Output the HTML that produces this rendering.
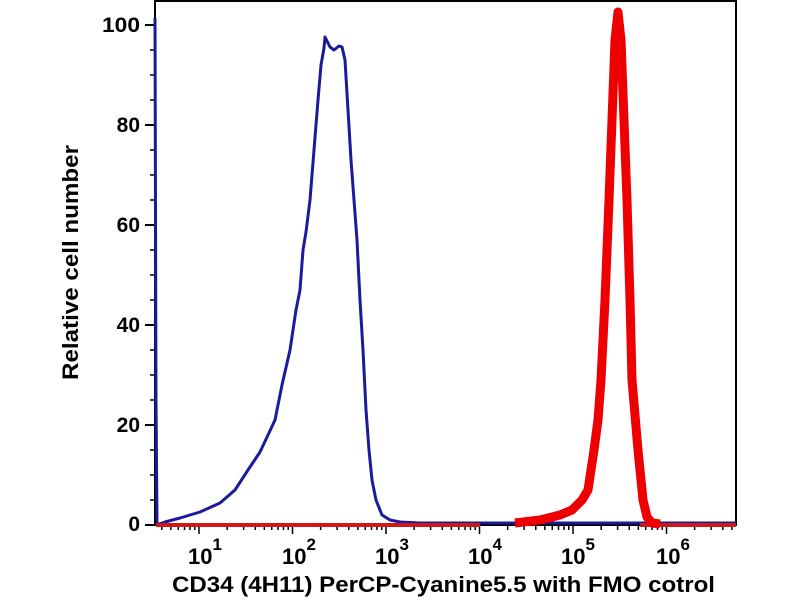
<!DOCTYPE html>
<html><head><meta charset="utf-8"><style>
html,body{margin:0;padding:0;background:#fff;width:800px;height:600px;overflow:hidden}
svg text{font-family:"Liberation Sans",Arial,sans-serif;font-weight:bold;fill:#000}
</style></head><body>
<svg width="800" height="600" viewBox="0 0 800 600" xmlns="http://www.w3.org/2000/svg">
<rect x="155" y="1" width="581" height="524" fill="none" stroke="#000" stroke-width="2"/>
<g stroke="#000" stroke-width="2">
<line x1="145" y1="25" x2="155" y2="25"/><line x1="145" y1="125" x2="155" y2="125"/>
<line x1="145" y1="225" x2="155" y2="225"/><line x1="145" y1="325" x2="155" y2="325"/>
<line x1="145" y1="425" x2="155" y2="425"/><line x1="145" y1="525" x2="155" y2="525"/>
</g>
<g stroke="#000" stroke-width="1.5">
<line x1="150" y1="50" x2="155" y2="50"/><line x1="150" y1="75" x2="155" y2="75"/><line x1="150" y1="100" x2="155" y2="100"/>
<line x1="150" y1="150" x2="155" y2="150"/><line x1="150" y1="175" x2="155" y2="175"/><line x1="150" y1="200" x2="155" y2="200"/>
<line x1="150" y1="250" x2="155" y2="250"/><line x1="150" y1="275" x2="155" y2="275"/><line x1="150" y1="300" x2="155" y2="300"/>
<line x1="150" y1="350" x2="155" y2="350"/><line x1="150" y1="375" x2="155" y2="375"/><line x1="150" y1="400" x2="155" y2="400"/>
<line x1="150" y1="450" x2="155" y2="450"/><line x1="150" y1="475" x2="155" y2="475"/><line x1="150" y1="500" x2="155" y2="500"/>
</g>
<g id="xt" stroke="#000" stroke-width="1.5"></g>
<g font-size="21" text-anchor="end">
<text x="140" y="32" textLength="38" lengthAdjust="spacingAndGlyphs">100</text><text x="140" y="132">80</text><text x="140" y="232">60</text>
<text x="140" y="332">40</text><text x="140" y="432">20</text><text x="140" y="531">0</text>
</g>
<g font-size="22" text-anchor="middle">
<text x="205" y="564">10<tspan font-size="17" dy="-14">1</tspan></text>
<text x="299" y="564">10<tspan font-size="17" dy="-14">2</tspan></text>
<text x="392" y="564">10<tspan font-size="17" dy="-14">3</tspan></text>
<text x="485" y="564">10<tspan font-size="17" dy="-14">4</tspan></text>
<text x="578" y="564">10<tspan font-size="17" dy="-14">5</tspan></text>
<text x="673" y="564">10<tspan font-size="17" dy="-14">6</tspan></text>
</g>
<text x="172" y="592" font-size="22" textLength="543" lengthAdjust="spacingAndGlyphs">CD34 (4H11) PerCP-Cyanine5.5 with FMO cotrol</text>
<text transform="translate(78,380) rotate(-90)" font-size="22" textLength="235" lengthAdjust="spacingAndGlyphs">Relative cell number</text>
<polyline fill="none" stroke="#1a1a9c" stroke-width="3" stroke-linejoin="round" points="155,18 156,400 157,523 159,524 165,522 180,518 200,512 220,503 235,490 248,470 260,452 268,435 275,420 282,385 290,350 296,310 300,290 303,250 306,232 310,200 314,150 318,100 321,65 324,48 325,37 330,47 334,50 339,46 342,47 345,60 348,110 351,160 354,200 357,240 360,300 363,350 366,410 369,450 372,480 376,500 382,515 390,520 400,522 420,523 736,523"/>
<line x1="156" y1="525" x2="480" y2="525" stroke="#d01818" stroke-width="4"/>
<line x1="640" y1="525" x2="736" y2="525" stroke="#d01818" stroke-width="4"/>
<polyline fill="none" stroke="#e00" stroke-width="9" stroke-linejoin="round" points="515,523 540,520 560,515 572,510 582,500 588,490 594,450 598,420 601,380 605,300 609,200 612,120 615,40 618,12 621,40 624,120 627,200 630,300 632,380 638,450 643,500 647,517 652,523 660,524"/>
</svg>
<script>
var g=document.getElementById('xt'),s='';
for(var d=0;d<=6;d++){for(var m=1;m<=9;m++){var x=199+(d-1+Math.log10(m))*93.5;if(x<156||x>736)continue;var L=m==1?9:5;s+='<line x1="'+x+'" y1="525" x2="'+x+'" y2="'+(525+L)+'"/>';}}
g.innerHTML=s;
</script>
</body></html>
